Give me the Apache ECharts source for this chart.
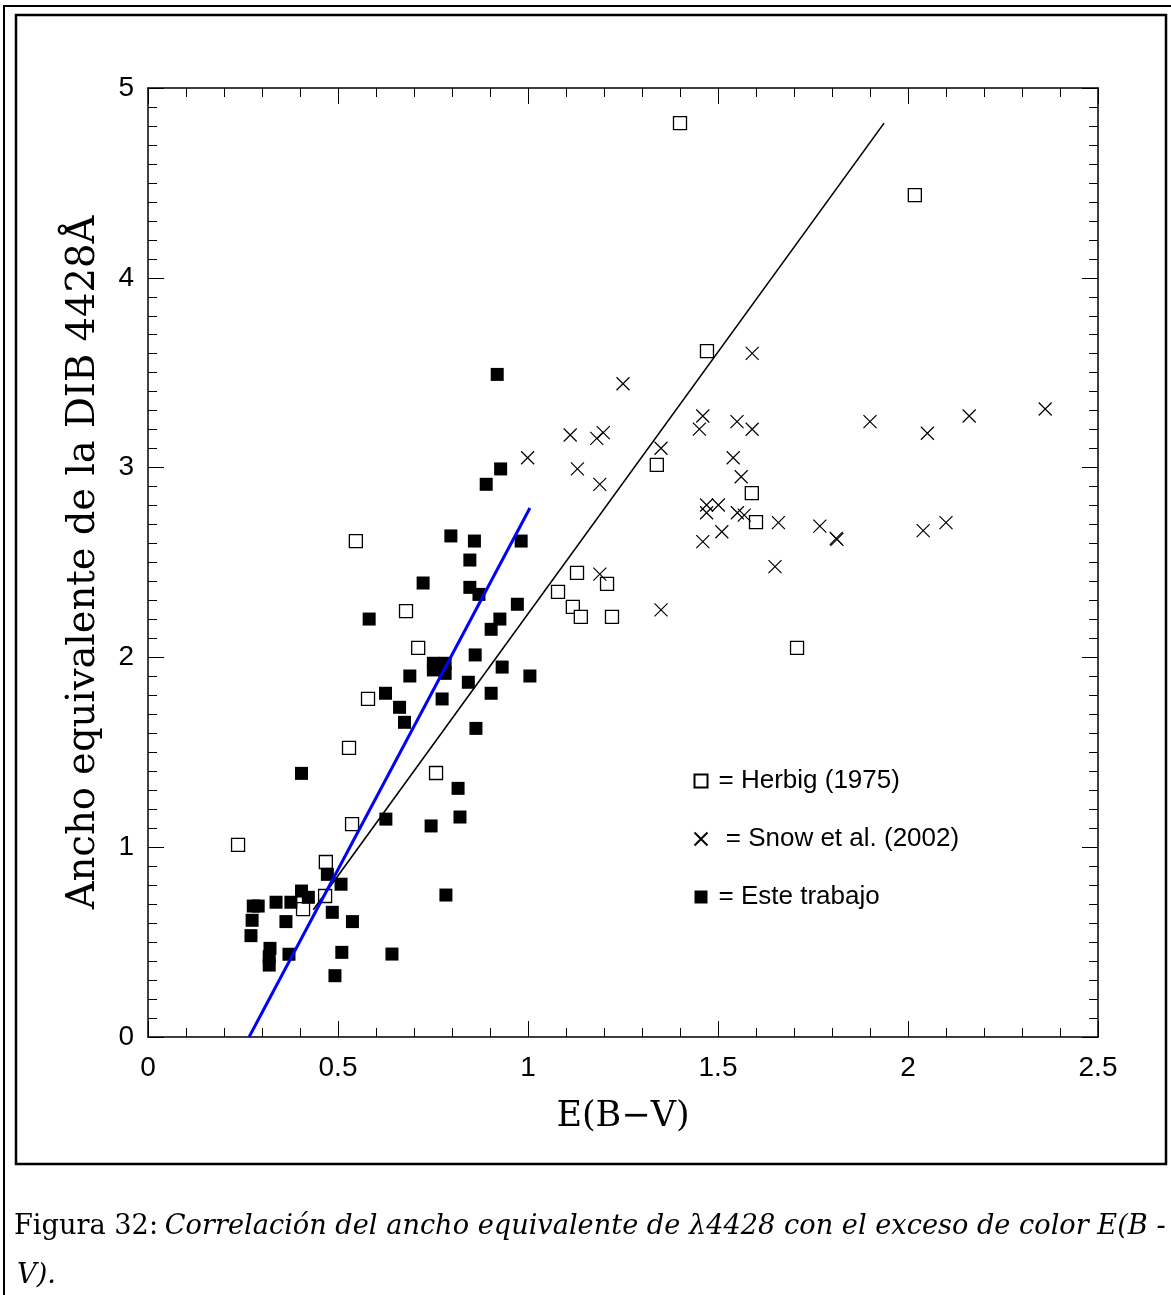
<!DOCTYPE html>
<html>
<head>
<meta charset="utf-8">
<script src="https://cdn.jsdelivr.net/npm/echarts@6/dist/echarts.min.js"></script>
<style>
  html, body { margin: 0; padding: 0; background: #fff; }
  #chart { width: 1171px; height: 1295px; }
</style>
</head>
<body>
<div id="chart"></div>
<script>
// E(B-V) vs equivalent width of the 4428 DIB
const herbig = [
  [1.400, 4.815], [2.018, 4.436], [1.471, 3.614], [1.339, 3.014], [1.589, 2.866],
  [1.600, 2.713], [0.547, 2.613], [1.129, 2.445], [1.208, 2.387], [1.079, 2.345],
  [1.118, 2.266], [1.139, 2.213], [1.221, 2.213], [0.679, 2.244], [0.711, 2.050],
  [1.708, 2.050], [0.579, 1.781], [0.529, 1.523], [0.758, 1.391], [0.537, 1.122],
  [0.237, 1.012], [0.468, 0.922], [0.466, 0.743], [0.408, 0.674]
]
const snow = [
  [0.999, 3.052], [1.111, 3.172], [1.181, 3.154], [1.198, 3.184], [1.130, 2.993],
  [1.189, 2.912], [1.250, 3.442], [1.189, 2.439], [1.350, 3.102], [1.350, 2.250],
  [1.460, 3.272], [1.451, 3.203], [1.550, 3.242], [1.590, 3.202], [1.590, 3.602],
  [1.540, 3.052], [1.561, 2.952], [1.470, 2.803], [1.501, 2.803], [1.470, 2.762],
  [1.551, 2.762], [1.569, 2.750], [1.659, 2.710], [1.768, 2.692], [1.510, 2.662],
  [1.460, 2.610], [1.650, 2.478], [1.811, 2.627], [1.813, 2.622], [1.900, 3.242],
  [2.051, 3.181], [2.161, 3.272], [2.361, 3.309], [2.040, 2.668], [2.100, 2.710]
]
const esteTrabajo = [
  [0.919, 3.491], [0.928, 2.993], [0.890, 2.912], [0.797, 2.640], [0.859, 2.613],
  [0.982, 2.613], [0.847, 2.513], [0.724, 2.392], [0.847, 2.369], [0.871, 2.332],
  [0.972, 2.280], [0.582, 2.202], [0.926, 2.202], [0.903, 2.148], [0.861, 2.013],
  [0.751, 1.969], [0.782, 1.969], [0.751, 1.934], [0.782, 1.916], [0.932, 1.949],
  [1.005, 1.902], [0.689, 1.902], [0.843, 1.869], [0.903, 1.811], [0.625, 1.811],
  [0.774, 1.781], [0.662, 1.737], [0.675, 1.658], [0.863, 1.626], [0.404, 1.389],
  [0.816, 1.310], [0.626, 1.148], [0.745, 1.112], [0.821, 1.159], [0.784, 0.748],
  [0.642, 0.437], [0.472, 0.857], [0.508, 0.805], [0.404, 0.769], [0.422, 0.736],
  [0.277, 0.690], [0.290, 0.690], [0.337, 0.710], [0.376, 0.710], [0.485, 0.657],
  [0.274, 0.615], [0.363, 0.608], [0.538, 0.608], [0.271, 0.534], [0.321, 0.467],
  [0.319, 0.423], [0.319, 0.379], [0.371, 0.436], [0.510, 0.446], [0.492, 0.323]
]
// fitted lines (all data / this work)
const fitAll = [[0.435, 0.670], [1.937, 4.815]]
const fitEste = [[0.266, 0.000], [1.005, 2.787]]

const xTitle = 'E(B\u2212V)'
const yTitle = 'Ancho equivalente de la DIB 4428\u00c5'

const serif = 'DejaVu Serif'
const sans = 'Liberation Sans'
const tickFont = 28

const chart = echarts.init(document.getElementById('chart'))

function xAxisCfg(pos, showLabel) {
  return {
    type: 'value',
    position: pos,
    min: 0,
    max: 2.5,
    interval: 0.5,
    axisLine: { show: true, onZero: false, lineStyle: { color: '#000', width: 1.5 } },
    axisTick: { show: true, inside: true, length: 16, lineStyle: { color: '#000', width: 1 } },
    minorTick: { show: true, splitNumber: 5, length: 9, lineStyle: { color: '#000', width: 1 } },
    splitLine: { show: false },
    axisLabel: {
      show: showLabel, margin: 17, color: '#000',
      fontFamily: sans, fontSize: tickFont,
      textStyle: { fontFamily: sans, fontSize: tickFont }
    },
    name: showLabel ? xTitle : '',
    nameLocation: 'middle',
    nameGap: 62,
    nameTextStyle: { fontFamily: serif, fontSize: 35, color: '#000' }
  }
}

function yAxisCfg(pos, showLabel) {
  return {
    type: 'value',
    position: pos,
    min: 0,
    max: 5,
    interval: 1,
    axisLine: { show: true, onZero: false, lineStyle: { color: '#000', width: 1.5 } },
    axisTick: { show: true, inside: true, length: 16, lineStyle: { color: '#000', width: 1 } },
    minorTick: { show: true, splitNumber: 10, length: 9, lineStyle: { color: '#000', width: 1 } },
    splitLine: { show: false },
    axisLabel: {
      show: showLabel, margin: 14, color: '#000',
      fontFamily: sans, fontSize: tickFont,
      textStyle: { fontFamily: sans, fontSize: tickFont }
    },
    name: showLabel ? yTitle : '',
    nameLocation: 'middle',
    nameRotate: 90,
    nameGap: 45,
    nameTextStyle: { fontFamily: serif, fontSize: 38.5, color: '#000' }
  }
}

chart.setOption({
  animation: false,
  backgroundColor: '#fff',
  textStyle: { fontFamily: sans },
  grid: { left: 148, top: 88, width: 950, height: 949 },
  xAxis: [xAxisCfg('bottom', true), xAxisCfg('top', false)],
  yAxis: [yAxisCfg('left', true), yAxisCfg('right', false)],
  legend: {
    orient: 'vertical',
    left: 692,
    top: 768,
    padding: 0,
    itemWidth: 13,
    itemHeight: 13,
    itemGap: 32,
    data: ['Herbig (1975)', 'Snow et al. (2002)', 'Este trabajo'],
    formatter: (name) => (name.startsWith('Snow') ? ' = ' : '= ') + name,
    textStyle: { fontFamily: sans, fontSize: 26, color: '#000', padding: [0, 0, 0, 6] }
  },
  series: [
    {
      name: 'Herbig (1975)',
      type: 'scatter',
      data: herbig,
      symbol: 'rect',
      symbolSize: 13,
      itemStyle: { color: '#fff', borderColor: '#000', borderWidth: 1.3, opacity: 1 }
    },
    {
      name: 'Snow et al. (2002)',
      type: 'scatter',
      data: snow,
      symbol: 'path://M0,0L10,10M0,10L10,0',
      symbolSize: 13,
      itemStyle: { color: 'none', borderColor: '#000', borderWidth: 1.2, opacity: 1 }
    },
    {
      name: 'Este trabajo',
      type: 'scatter',
      data: esteTrabajo,
      symbol: 'rect',
      symbolSize: 13,
      itemStyle: { color: '#000', opacity: 1 }
    },
    {
      type: 'line',
      data: fitAll,
      symbol: 'none',
      z: 5,
      lineStyle: { color: '#000', width: 1.6 }
    },
    {
      type: 'line',
      data: fitEste,
      symbol: 'none',
      z: 6,
      lineStyle: { color: '#0000ff', width: 3 }
    }
  ],
  graphic: [
    {
      type: 'polyline',
      shape: { points: [[4, 1295], [4, 6], [1171, 6]] },
      style: { fill: null, stroke: '#000', lineWidth: 2 }
    },
    {
      type: 'rect',
      shape: { x: 16, y: 15, width: 1150, height: 1149 },
      style: { fill: null, stroke: '#000', lineWidth: 2.5 }
    },
    {
      type: 'text',
      left: 14,
      top: 1213,
      style: {
        text: '{n|Figura 32:}  {i|Correlaci\u00f3n del ancho equivalente de \u03bb4428 con el exceso de color E(B -}',
        rich: {
          n: { fontFamily: serif, fontSize: 27.2, color: '#000' },
          i: { fontFamily: serif, fontSize: 27.2, fontStyle: 'italic', color: '#000' }
        }
      }
    },
    {
      type: 'text',
      left: 17,
      top: 1262,
      style: { text: 'V).', fontFamily: serif, fontSize: 27.2, fontStyle: 'italic', fill: '#000' }
    }
  ]
})

window.addEventListener('resize', () => chart.resize())
</script>
</body>
</html>
